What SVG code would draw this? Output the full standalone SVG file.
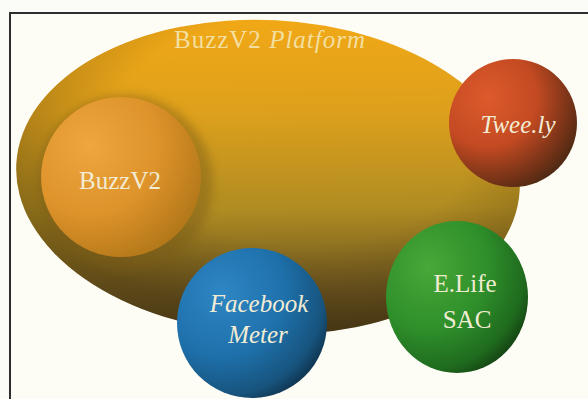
<svg xmlns="http://www.w3.org/2000/svg" width="588" height="399" viewBox="0 0 588 399">
  <defs>
    <linearGradient id="gPlat" x1="0.45" y1="0" x2="0.55" y2="1">
      <stop offset="0" stop-color="#f1a816"/>
      <stop offset="0.3" stop-color="#dda01c"/>
      <stop offset="0.6" stop-color="#b08c22"/>
      <stop offset="0.85" stop-color="#6d5620"/>
      <stop offset="1" stop-color="#4a3a1a"/>
    </linearGradient>
    <radialGradient id="gPlatEdge" cx="0.55" cy="0.35" r="0.6">
      <stop offset="0.6" stop-color="#3c2c0a" stop-opacity="0"/>
      <stop offset="1" stop-color="#3c2c0a" stop-opacity="0.35"/>
    </radialGradient>
    <radialGradient id="gBuzz" cx="0.3" cy="0.3" r="0.8">
      <stop offset="0" stop-color="#efa63e"/>
      <stop offset="0.55" stop-color="#dd922a"/>
      <stop offset="1" stop-color="#b07618"/>
    </radialGradient>
    <radialGradient id="gTwee" cx="0.3" cy="0.3" r="0.85">
      <stop offset="0" stop-color="#dd5a2c"/>
      <stop offset="0.45" stop-color="#c44a22"/>
      <stop offset="0.75" stop-color="#7a3418"/>
      <stop offset="1" stop-color="#3a2410"/>
    </radialGradient>
    <radialGradient id="gLife" cx="0.3" cy="0.3" r="0.85">
      <stop offset="0" stop-color="#48a838"/>
      <stop offset="0.5" stop-color="#2e8e2a"/>
      <stop offset="0.8" stop-color="#1f6a1e"/>
      <stop offset="1" stop-color="#0f2e0c"/>
    </radialGradient>
    <radialGradient id="gFace" cx="0.3" cy="0.3" r="0.85">
      <stop offset="0" stop-color="#2e86c4"/>
      <stop offset="0.5" stop-color="#1e70aa"/>
      <stop offset="0.8" stop-color="#17547e"/>
      <stop offset="1" stop-color="#0a2234"/>
    </radialGradient>
    <filter id="blur" x="-20%" y="-20%" width="140%" height="140%">
      <feGaussianBlur stdDeviation="5"/>
    </filter>
  </defs>
  <style>
    .lbl { font-family: "Liberation Serif", "DejaVu Serif", serif; font-size: 25px; fill: #f2ecd4; text-anchor: middle; }
    .it { font-style: italic; }
    .title { font-family: "Liberation Serif", "DejaVu Serif", serif; font-size: 25px; fill: #f3dfa0; text-anchor: middle; letter-spacing: 1px; }
  </style>
  <rect x="0" y="0" width="588" height="399" fill="#fbfbf7"/>
  <rect x="10" y="13" width="600" height="400" fill="#fdfdf6" stroke="#2e2e2e" stroke-width="2"/>

  <g id="platform">
    <ellipse cx="268" cy="177" rx="252" ry="157" transform="rotate(3 268 177)" fill="url(#gPlat)"/>
    <ellipse cx="268" cy="177" rx="252" ry="157" transform="rotate(3 268 177)" fill="url(#gPlatEdge)"/>
    <text class="title" x="270" y="48">BuzzV2 <tspan class="it">Platform</tspan></text>
  </g>

  <g id="buzzv2">
    <circle cx="125" cy="183" r="88" fill="#7a5c16" opacity="0.45" filter="url(#blur)"/>
    <circle cx="121" cy="177" r="80" fill="url(#gBuzz)"/>
    <text class="lbl" x="120" y="189">BuzzV2</text>
  </g>

  <g id="tweely">
    <circle cx="513" cy="123" r="64" fill="url(#gTwee)"/>
    <text class="lbl it" x="518" y="133">Twee.ly</text>
  </g>

  <g id="elife">
    <ellipse cx="457" cy="297" rx="71" ry="76" fill="url(#gLife)"/>
    <text class="lbl" x="465" y="292">E.Life</text>
    <text class="lbl" x="467" y="328">SAC</text>
  </g>

  <g id="facebook">
    <circle cx="252" cy="323" r="75" fill="url(#gFace)"/>
    <text class="lbl it" x="259" y="312">Facebook</text>
    <text class="lbl it" x="258" y="343">Meter</text>
  </g>

  <g id="connectors"/>
</svg>
